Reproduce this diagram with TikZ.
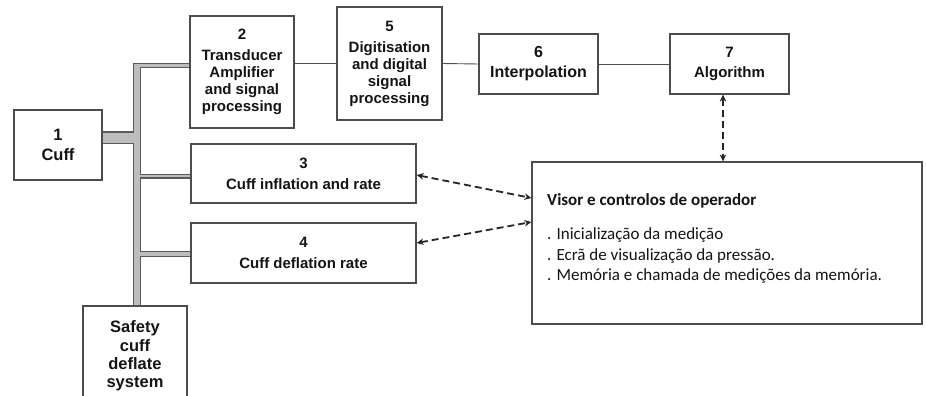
\documentclass[tikz,border=0pt]{standalone}
\usepackage{fontspec}
\setmainfont{Liberation Sans}
\newfontfamily\visorfont{Carlito}
\usetikzlibrary{arrows.meta}

\definecolor{boxline}{HTML}{4D4D4D}
\definecolor{textdark}{HTML}{141414}
\definecolor{pipedark}{HTML}{5A5A5A}
\definecolor{pipelight}{HTML}{BDBDBD}

\begin{document}
\begin{tikzpicture}[x = 1pt, y = -1pt, text = textdark]
	\tikzstyle{BlockStyle}=[shape = rectangle, draw = boxline, line width = 1.2pt, fill = white, align = center, inner sep = 0pt, font = \bfseries\fontsize{15}{17}\selectfont]
	\tikzstyle{BigBlockStyle}=[BlockStyle, font = \bfseries\fontsize{16.5}{18.3}\selectfont]
	\tikzstyle{LinkStyle}=[draw = boxline, line width = 0.9pt]
	\tikzstyle{PipeOutStyle}=[draw = pipedark]
	\tikzstyle{PipeInStyle}=[draw = pipelight]
	\tikzstyle{ControlStyle}=[draw = black!85, line width = 1.8pt, dash pattern = on 7pt off 4pt, {Stealth[length = 7pt, width = 6.5pt]}-{Stealth[length = 7pt, width = 6.5pt]}]
	\useasboundingbox (0,0) rectangle (926,396);
	\node[BigBlockStyle, minimum width = 88, minimum height = 70] (cuff) at (58,145) {1\\[1pt]Cuff};
	\node[BlockStyle, minimum width = 104, minimum height = 112] (tran) at (242,72) {2\\[4pt]Transducer\\Amplifier\\and signal\\processing};
	\node[BlockStyle, minimum width = 105, minimum height = 113] (digi) at (389.5,63.5) {5\\[4pt]Digitisation\\and digital\\signal\\processing};
	\node[BlockStyle, minimum width = 119, minimum height = 60, font = \bfseries\fontsize{16}{17}\selectfont] (interp) at (538.5,64) {6\\[3pt]Interpolation};
	\node[BlockStyle, minimum width = 119, minimum height = 60] (algo) at (729.5,64) {7\\[3pt]Algorithm};
	\node[BlockStyle, minimum width = 225, minimum height = 59] (infl) at (303.5,173.5) {3\\[4pt]Cuff inflation and rate};
	\node[BlockStyle, minimum width = 225, minimum height = 60] (defl) at (303.5,253) {4\\[4pt]Cuff deflation rate};
	\node[BlockStyle, minimum width = 390, minimum height = 162] (visor) at (727,243) {};
	\node[BigBlockStyle, minimum width = 104, minimum height = 100] (safety) at (135,356) {Safety\\cuff\\deflate\\system};
	\node[anchor = north west, align = left, inner sep = 0pt, font = \visorfont\fontsize{17}{20.5}\selectfont] (visortext) at (547,193) {\textbf{Visor e controlos de operador}\\[14pt]. Inicialização da medição\\. Ecrã de visualização da pressão.\\. Memória e chamada de medições da memória.};
	% pneumatic bus
	\coordinate (bustop) at (137,63);
	\coordinate (toppipe) at (133,65.5);
	\draw[PipeOutStyle, line width = 8pt] (bustop) -- (bustop |- safety.north);
	\draw[PipeOutStyle, line width = 5.5pt] (toppipe) -- (toppipe -| tran.west);
	\draw[PipeOutStyle, line width = 13pt] ([yshift=7.5pt]cuff.east) -- ([yshift=7.5pt]cuff.east -| bustop);
	\draw[PipeOutStyle, line width = 5pt] ([yshift=-2.5pt]infl.west) -- ([yshift=-2.5pt]infl.west -| bustop);
	\draw[PipeOutStyle, line width = 6pt] ([yshift=-1pt]defl.west) -- ([yshift=-1pt]defl.west -| bustop);
	\draw[PipeInStyle, line width = 5.5pt] ([yshift=-2.5pt]bustop) -- (bustop |- safety.north);
	\draw[PipeInStyle, line width = 2.8pt] ([xshift=1.3pt]toppipe) -- (toppipe -| tran.west);
	\draw[PipeInStyle, line width = 10pt] ([yshift=7.5pt]cuff.east) -- ([yshift=7.5pt]cuff.east -| bustop);
	\draw[PipeInStyle, line width = 2.5pt] ([yshift=-2.5pt]infl.west) -- ([yshift=-2.5pt]infl.west -| bustop);
	\draw[PipeInStyle, line width = 3.2pt] ([yshift=-1pt]defl.west) -- ([yshift=-1pt]defl.west -| bustop);
	% signal chain
	\draw[LinkStyle] (tran.east |- digi.west) -- (digi.west);
	\draw[LinkStyle] (digi.east) -- (interp.west);
	\draw[LinkStyle] (interp.east) -- (algo.west);
	% operator links
	\draw[ControlStyle] ([xshift=-6.5pt]algo.south) -- ([xshift=-6.5pt]algo.south |- visor.north);
	\draw[ControlStyle] ([yshift=-1.5pt]infl.east) -- ([yshift=45pt]visor.west);
	\draw[ControlStyle] ([yshift=10pt]defl.east) -- ([yshift=21pt]visor.west);
\end{tikzpicture}
\end{document}
